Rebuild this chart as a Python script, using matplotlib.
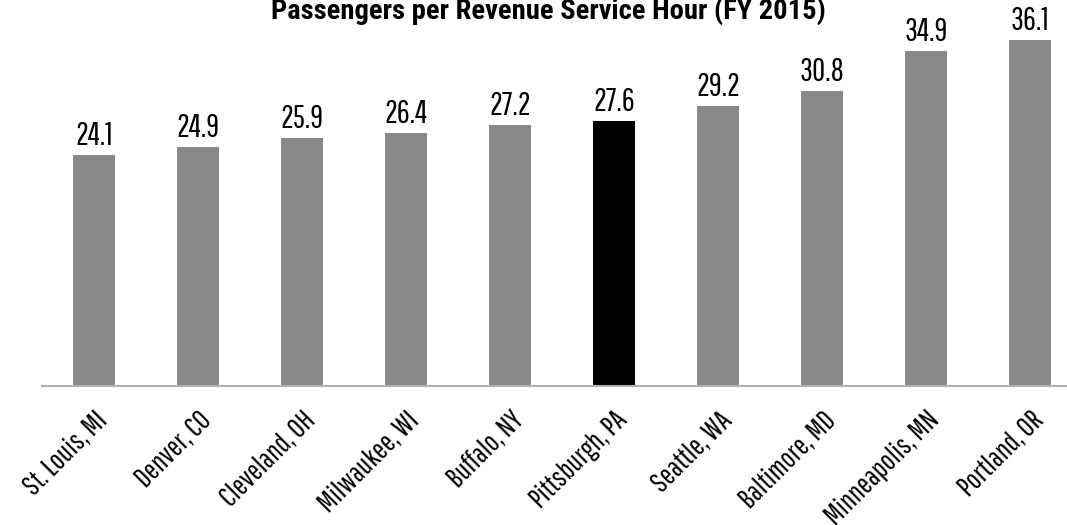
import matplotlib
matplotlib.use("Agg")
import matplotlib.pyplot as plt

label_font = ['Pathway Gothic One', 'Roboto Condensed', 'DejaVu Sans']
title_font = ['Roboto Condensed', 'DejaVu Sans']
plt.rcParams['font.family'] = label_font

cities = ["St. Louis, MI", "Denver, CO", "Cleveland, OH", "Milwaukee, WI", "Buffalo, NY",
          "Pittsburgh, PA", "Seattle, WA", "Baltimore, MD", "Minneapolis, MN", "Portland, OR"]
passengers = [24.1, 24.9, 25.9, 26.4, 27.2, 27.6, 29.2, 30.8, 34.9, 36.1]
highlight = "Pittsburgh, PA"

fig = plt.figure(figsize=(10.67, 5.25), dpi=100)
ax = fig.add_axes([42/1067, 1 - 386/525, 1 - 42/1067, 386/525])

colors = ["black" if c == highlight else "#888888" for c in cities]
pos = list(range(len(cities)))
bars = ax.bar(pos, passengers, width=0.4, color=colors)

for b, v in zip(bars, passengers):
    ax.annotate(f"{v:.1f}", (b.get_x() + b.get_width()/2, v), xytext=(0, 3),
                textcoords="offset points", ha="center", va="bottom", fontsize=23)

ax.set_xlim(-0.5, 9.356)
ax.set_ylim(0, 40.27)
ax.set_xticks(pos)
ax.set_xticklabels(cities, rotation=45, ha="right", rotation_mode="anchor", fontsize=21)
ax.tick_params(axis="x", length=0, pad=15)
ax.set_yticks([])
for s in ["top", "right", "left"]:
    ax.spines[s].set_visible(False)
ax.spines["bottom"].set_color("#b3b3b3")
ax.spines["bottom"].set_linewidth(1.5)

fig.text(548/1067, 1 - 19/525, "Passengers per Revenue Service Hour (FY 2015)",
         ha="center", va="baseline", fontsize=20.5, fontweight="bold", family=title_font)

fig.savefig("out.png", dpi=100)
